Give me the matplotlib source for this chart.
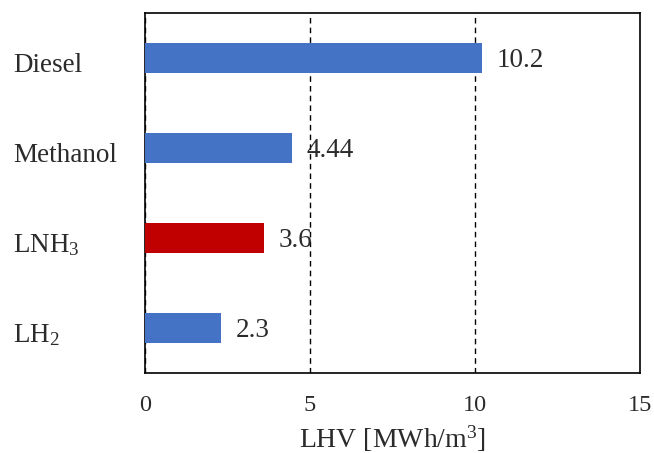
import matplotlib
matplotlib.use("Agg")
import matplotlib.pyplot as plt
from matplotlib.transforms import ScaledTranslation

plt.rcParams['font.family'] = ['Liberation Serif', 'DejaVu Serif']
plt.rcParams['mathtext.fontset'] = 'custom'
plt.rcParams['mathtext.rm'] = 'Liberation Serif'

categories = ['Diesel', 'Methanol', r'LNH$\mathregular{_3}$', r'LH$\mathregular{_2}$']
values = [10.2, 4.44, 3.6, 2.3]
value_labels = ['10.2', '4.44', '3.6', '2.3']
colors = ['#4472C4', '#4472C4', '#C00000', '#4472C4']
xticks = [0, 5, 10, 15]

txt = '#2b2b2b'
fig = plt.figure(figsize=(6.54, 4.53), dpi=100)
ax = fig.add_axes([145/654, 1-373/453, 495/654, 360/453])

y = list(range(len(categories)))
ax.barh(y, values, height=0.34, color=colors, zorder=3)
for yi, v, lab in zip(y, values, value_labels):
    ax.annotate(lab, (v, yi), xytext=(11, -2), textcoords='offset points',
                ha='left', va='center', fontsize=19.5, color=txt, zorder=4)

ax.set_ylim(len(categories)-0.5, -0.5)
ax.set_xlim(0, 15)
ax.set_xticks(xticks)
ax.set_xticklabels([str(t) for t in xticks], fontsize=17.5, color=txt)
ax.set_yticks(y)
ax.set_yticklabels(categories, fontsize=19.5, color=txt, ha='left')
ax.tick_params(axis='y', length=0, pad=95)
ax.tick_params(axis='x', length=0, pad=16)
off = ScaledTranslation(0, -4/100, fig.dpi_scale_trans)
for t in ax.get_yticklabels():
    t.set_transform(t.get_transform() + off)
for gx in [0, 5, 10]:
    ax.axvline(gx, color='black', linestyle=(0, (4, 3)), linewidth=1.0, zorder=1)
for s in ax.spines.values():
    s.set_color('black')
    s.set_linewidth(1.2)
ax.set_xlabel(r'LHV [MWh/m$\mathregular{^3}$]', fontsize=20, color=txt, labelpad=5)

fig.savefig('out.png', dpi=100)
